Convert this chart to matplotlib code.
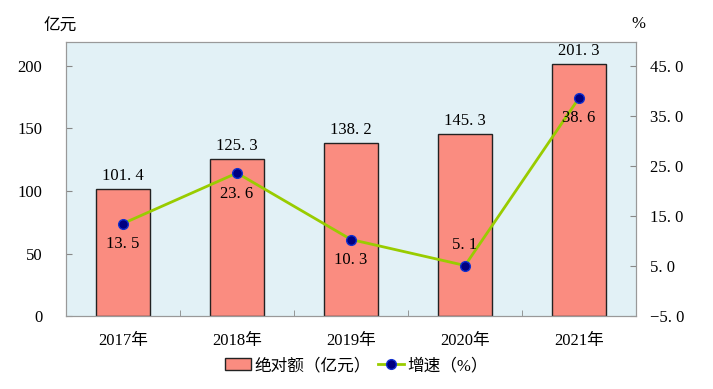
import matplotlib.pyplot as plt
import numpy as np

plt.rcParams['font.family'] = ['Liberation Serif', 'Noto Sans CJK SC']
plt.rcParams['axes.unicode_minus'] = False

years = ['2017年', '2018年', '2019年', '2020年', '2021年']
amount = [101.4, 125.3, 138.2, 145.3, 201.3]
growth = [13.5, 23.6, 10.3, 5.1, 38.6]
growth_pos = ['below', 'below', 'below', 'above', 'below']


def fmt(v):
    # the source font leaves a gap after the decimal point
    return f'{v:.1f}'.replace('.', '. ')


fig = plt.figure(figsize=(7.13, 3.89), dpi=100)
ax = fig.add_axes([66 / 713, 1 - 316 / 389, 570 / 713, 274 / 389])
ax.set_facecolor('#e2f1f6')
x = np.arange(len(years))

bars = ax.bar(x, amount, width=0.47, color='#fa8c80', edgecolor='#222222',
              linewidth=1, zorder=2)
for xi, v in zip(x, amount):
    ax.annotate(fmt(v), (xi, v), xytext=(0, 4), textcoords='offset points',
                ha='center', va='bottom', fontsize=12)
ax.set_xlim(-0.5, 4.5)
ax.set_ylim(0, 219.2)
ax.set_yticks([0, 50, 100, 150, 200])
ax.set_xticks(x)
ax.set_xticklabels(years, fontsize=12)
ax.set_xticks(np.arange(0.5, 4.5, 1), minor=True)
ax.tick_params(axis='x', which='major', length=0, pad=12)
ax.tick_params(axis='x', which='minor', direction='in', length=4, color='#888888')
ax.tick_params(axis='y', direction='in', length=4, color='#888888', labelsize=12, pad=17)
for s in ax.spines.values():
    s.set_color('#999999')

ax2 = ax.twinx()
ax2.set_ylim(-5, 49.8)
rticks = [-5, 5, 15, 25, 35, 45]
ax2.set_yticks(rticks)
ax2.set_yticklabels([fmt(t).replace('-', '−') for t in rticks])
ax2.tick_params(axis='y', direction='in', length=4, color='#888888', labelsize=12, pad=10)
for s in ax2.spines.values():
    s.set_color('#999999')
line, = ax2.plot(x, growth, color='#99cc00', linewidth=2, marker='o', markersize=7,
                 markerfacecolor='#000080', markeredgecolor='#1030d0', zorder=3)
for xi, v, p in zip(x, growth, growth_pos):
    off = -9 if p == 'below' else 9
    ax2.annotate(fmt(v), (xi, v), xytext=(0, off), textcoords='offset points',
                 ha='center', va='top' if p == 'below' else 'bottom', fontsize=12)

fig.text(60 / 713, 1 - 27 / 389, '亿元', ha='center', va='center', fontsize=12)
fig.text(638 / 713, 1 - 24 / 389, '%', ha='center', va='center', fontsize=12)

fig.legend([bars, line], ['绝对额（亿元）', '增速（%）'], loc='center',
           bbox_to_anchor=(0.5, 1 - 366 / 389), ncol=2, frameon=False, fontsize=12,
           handlelength=1.6, handletextpad=0.2, columnspacing=0.4)

fig.savefig('out.png', dpi=100)
